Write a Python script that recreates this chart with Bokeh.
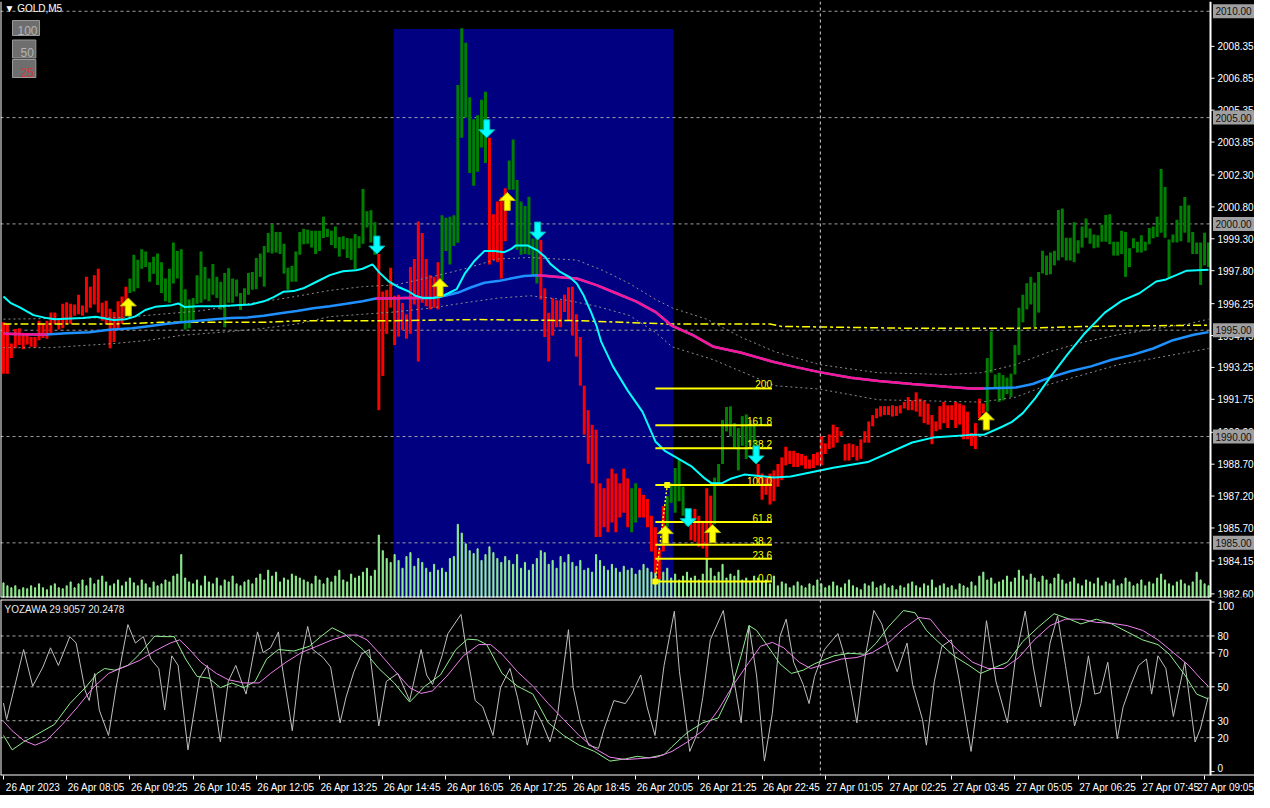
from bokeh.plotting import figure
from bokeh.layouts import column
from bokeh.models import Range1d, FixedTicker, Label, Span
from bokeh.embed import file_html
from bokeh.resources import INLINE
from bokeh.core.properties import value

FONT = "Liberation Sans"

# ---------------- data (GOLD, M5, bar index 0 = 26 Apr 06:45) ----------------
bar_hi = [
    1995.37, 1995.29, 1994.38, 1995.06, 1995.09, 1994.83, 1994.79, 1994.68, 1994.68, 1995.45,
    1995.29, 1995.45, 1995.83, 1995.83, 1995.52, 1996.24, 1996.32, 1996.24, 1996.21, 1996.67,
    1996.16, 1997.51, 1997.05, 1997.59, 1997.89, 1996.29, 1996.39, 1996.01, 1995.86, 1996.36,
    1996.59, 1997.05, 1997.43, 1998.55, 1998.31, 1998.81, 1998.70, 1998.20, 1998.46, 1998.61,
    1998.20, 1997.43, 1997.89, 1999.12, 1998.73, 1998.81, 1996.93, 1996.44, 1996.52, 1997.59,
    1998.70, 1997.97, 1997.43, 1998.12, 1997.51, 1997.28, 1997.69, 1997.92, 1997.43, 1997.39,
    1996.75, 1996.97, 1997.69, 1997.74, 1998.40, 1998.61, 1998.96, 1999.57, 1999.99, 1999.62,
    1999.62, 1999.07, 1997.94, 1998.03, 1998.70, 1999.62, 1999.77, 1999.73, 1999.68, 1999.68,
    1999.68, 2000.34, 1999.77, 1999.68, 1999.88, 1999.38, 1999.42, 1999.34, 1999.31, 1999.53,
    1999.42, 2001.64, 2000.60, 2000.64, 2000.08, 1998.58, 1996.82, 1996.90, 1997.94, 1996.62,
    1996.67, 1996.28, 1995.75, 1997.97, 1998.35, 2000.11, 1999.57, 1998.35, 1997.59, 1997.51,
    1998.20, 2000.41, 2000.29, 2000.34, 2000.41, 2006.53, 2009.20, 2008.52, 2005.96, 2004.92,
    2005.11, 2005.84, 2006.22, 2004.05, 2000.46, 2001.05, 2001.25, 2001.68, 2002.98, 2003.97,
    2002.06, 2001.05, 2000.84, 2001.28, 1999.31, 1999.50, 1999.24, 1996.97, 1995.82, 1996.51,
    1996.41, 1996.41, 1996.67, 1997.02, 1997.05, 1995.75, 1994.68, 1992.39, 1991.24, 1990.55,
    1990.32, 1987.80, 1987.57, 1988.03, 1988.49, 1988.26, 1987.80, 1988.49, 1988.03, 1987.57,
    1987.80, 1987.57, 1987.26, 1987.06, 1986.27, 1985.73, 1984.66, 1986.73, 1987.19, 1987.80,
    1988.52, 1988.91, 1987.64, 1986.50, 1986.19, 1986.60, 1986.27, 1986.04, 1987.57, 1987.22,
    1988.07, 1988.71, 1990.78, 1991.39, 1991.42, 1990.63, 1990.40, 1990.96, 1991.04, 1990.78,
    1990.63, 1988.71, 1988.26, 1988.10, 1988.26, 1988.41, 1988.71, 1989.02, 1989.52, 1989.33,
    1989.33, 1989.23, 1989.18, 1989.10, 1988.92, 1989.18, 1989.26, 1990.02, 1989.68, 1990.10,
    1990.56, 1990.45, 1990.25, 1989.64, 1989.68, 1989.64, 1989.56, 1989.87, 1990.25, 1990.71,
    1991.01, 1991.32, 1991.43, 1991.43, 1991.43, 1991.47, 1991.43, 1991.47, 1991.63, 1991.86,
    1991.70, 1992.08, 1991.78, 1991.70, 1991.55, 1991.01, 1990.71, 1991.43, 1991.63, 1991.47,
    1991.47, 1991.63, 1991.55, 1991.47, 1991.17, 1990.17, 1990.63, 1991.78, 1991.55, 1993.69,
    1994.94, 1992.92, 1993.00, 1992.89, 1992.77, 1992.96, 1994.30, 1996.06, 1996.67, 1997.21,
    1997.51, 1997.24, 1997.74, 1998.74, 1998.51, 1998.66, 1998.74, 2000.65, 2000.72, 1999.35,
    1999.35, 2000.08, 1999.23, 1999.88, 2000.26, 1999.78, 1999.50, 1999.47, 1999.96, 2000.42,
    2000.45, 1999.16, 1999.16, 1999.68, 1999.62, 1998.86, 1999.32, 1999.16, 1999.47, 1999.16,
    1999.81, 1999.88, 2000.34, 2002.58, 2001.74, 1999.27, 1999.50, 2000.19, 2000.85, 2001.26,
    2000.88, 1999.62, 1999.12, 1999.12, 1999.58, 1999.12,
]
bar_lo = [
    1992.95, 1992.95, 1993.69, 1994.15, 1994.30, 1994.10, 1994.33, 1994.22, 1994.18, 1994.53,
    1994.64, 1994.60, 1994.83, 1995.29, 1995.03, 1995.09, 1995.29, 1995.29, 1995.68, 1995.75,
    1995.68, 1995.83, 1996.06, 1996.21, 1995.83, 1995.45, 1995.29, 1994.15, 1994.45, 1995.06,
    1995.29, 1995.68, 1996.75, 1996.82, 1996.97, 1997.89, 1997.97, 1997.28, 1997.66, 1997.13,
    1996.75, 1996.36, 1996.29, 1997.20, 1997.43, 1995.37, 1995.03, 1995.09, 1995.37, 1996.24,
    1996.29, 1996.44, 1996.36, 1996.67, 1996.52, 1995.98, 1995.14, 1996.29, 1996.29, 1996.59,
    1995.95, 1996.21, 1996.67, 1996.90, 1996.93, 1997.51, 1997.05, 1998.66, 1998.61, 1998.66,
    1998.58, 1997.66, 1996.90, 1997.28, 1997.28, 1998.55, 1999.04, 1999.07, 1998.89, 1998.58,
    1998.73, 1999.34, 1999.39, 1999.01, 1998.86, 1998.46, 1998.81, 1998.40, 1998.31, 1997.85,
    1998.86, 1999.07, 1999.83, 1999.12, 1998.55, 1991.24, 1992.85, 1994.83, 1996.06, 1994.30,
    1994.70, 1995.00, 1994.60, 1994.83, 1996.21, 1993.53, 1996.29, 1996.13, 1995.98, 1996.06,
    1995.98, 1997.36, 1998.73, 1998.09, 1998.96, 1999.11, 2004.05, 2005.00, 2002.40, 2001.79,
    2002.45, 2003.59, 2002.86, 1998.09, 1998.30, 1998.20, 1997.43, 1999.19, 2001.61, 2001.61,
    1998.78, 1998.55, 1998.58, 1998.55, 1997.51, 1997.20, 1996.44, 1994.68, 1993.53, 1994.75,
    1995.14, 1995.14, 1995.86, 1995.45, 1994.75, 1993.76, 1992.39, 1990.09, 1988.72, 1987.80,
    1985.28, 1985.28, 1985.73, 1985.50, 1985.96, 1985.50, 1986.19, 1986.42, 1985.73, 1985.50,
    1985.96, 1986.19, 1986.19, 1985.73, 1984.59, 1983.59, 1983.29, 1984.59, 1985.73, 1986.88,
    1986.42, 1986.96, 1986.27, 1985.81, 1985.12, 1985.05, 1984.82, 1984.74, 1984.32, 1985.12,
    1985.88, 1987.80, 1988.71, 1990.24, 1990.00, 1989.48, 1988.41, 1989.56, 1988.94, 1989.56,
    1988.79, 1987.80, 1987.03, 1987.26, 1986.80, 1986.96, 1987.64, 1987.95, 1988.64, 1988.71,
    1988.57, 1988.57, 1988.64, 1988.49, 1988.49, 1988.52, 1988.64, 1988.64, 1989.18, 1989.41,
    1989.48, 1989.71, 1990.02, 1988.87, 1988.87, 1989.03, 1988.87, 1988.95, 1989.71, 1989.71,
    1990.48, 1990.86, 1990.94, 1991.01, 1991.01, 1990.94, 1990.97, 1991.09, 1991.32, 1991.24,
    1991.24, 1991.17, 1990.94, 1990.63, 1990.56, 1989.64, 1990.25, 1990.33, 1990.63, 1990.40,
    1990.78, 1990.40, 1990.56, 1989.87, 1989.87, 1989.56, 1989.41, 1990.86, 1991.09, 1991.17,
    1993.00, 1992.31, 1991.63, 1991.70, 1992.00, 1991.86, 1992.92, 1993.84, 1995.37, 1995.98,
    1996.21, 1995.14, 1995.83, 1997.67, 1997.59, 1997.63, 1998.05, 1998.28, 1998.43, 1998.28,
    1998.28, 1998.20, 1998.61, 1998.89, 1999.35, 1999.07, 1998.86, 1998.89, 1999.16, 1999.16,
    1999.04, 1998.51, 1998.51, 1998.58, 1997.51, 1997.97, 1998.86, 1998.66, 1998.66, 1998.74,
    1999.04, 1999.32, 1999.38, 1999.58, 1999.35, 1997.44, 1999.12, 1999.12, 1999.19, 1999.58,
    1999.12, 1998.58, 1998.58, 1997.13, 1998.05, 1997.97,
]
# run-length coded bar direction: d = bearish (red), u = bullish (green)
bar_dir_runs = [("d", 32), ("u", 63), ("d", 16), ("u", 12), ("d", 5), ("u", 8), ("d", 23),
                ("u", 2), ("d", 7), ("u", 6), ("d", 6), ("u", 11), ("d", 58), ("u", 57)]
volume = [
    15, 12, 10, 12, 8, 10, 9, 12, 10, 14, 10, 8, 12, 14, 10, 9,
    12, 16, 10, 14, 18, 12, 20, 14, 18, 22, 16, 12, 14, 18, 12, 16,
    20, 15, 12, 18, 14, 10, 16, 12, 14, 18, 16, 22, 24, 44, 20, 16,
    14, 18, 12, 22, 16, 14, 20, 12, 18, 16, 22, 14, 12, 16, 18, 14,
    20, 24, 18, 28, 22, 26, 16, 20, 18, 24, 22, 20, 18, 16, 14, 22,
    18, 14, 20, 16, 22, 28, 18, 16, 24, 20, 22, 26, 30, 22, 28,
    64, 48, 40, 36, 44, 38, 30, 42, 46, 32, 40, 36, 30, 26, 34, 28,
    30, 26, 40, 42, 75, 66, 55, 48, 45, 50, 38, 44, 52, 46, 40, 36,
    42, 38, 34, 44, 30, 36, 28, 34, 40, 48, 46, 34, 38, 30, 42, 36,
    44, 36, 32, 38, 28, 30, 26, 44, 38, 32, 28, 34, 30, 26, 32, 28,
    30, 24, 28, 34, 30, 26, 32, 22, 26, 30, 20, 24, 18, 22, 26, 20,
    22, 18, 24, 40, 30, 22, 26, 34, 20, 24, 22, 28, 18, 20, 16, 22,
    20, 16, 18, 14, 22, 12, 16, 14, 10, 12, 16, 12, 10, 14, 12, 18,
    14, 10, 12, 16, 12, 10, 14, 18, 12, 10, 8, 14, 12, 16, 10, 12,
    14, 10, 12, 8, 12, 10, 14, 16, 12, 10, 14, 12, 18, 10, 12, 14,
    10, 12, 8, 14, 12, 10, 16, 12, 22, 26, 18, 20, 14, 16, 18, 22,
    16, 20, 28, 22, 18, 24, 20, 16, 22, 18, 14, 20, 24, 18, 14, 16,
    20, 14, 12, 18, 16, 14, 20, 12, 16, 14, 18, 12, 14, 20, 16, 12,
    14, 18, 12, 16, 14, 20, 24, 18, 14, 12, 16, 18, 14, 12, 16, 26, 18, 14, 12,
]

fast_ma = [(0, 1996.59), (1.75, 1996.29), (4.25, 1996.06), (7.6, 1995.71), (10.9, 1995.57), (13, 1995.52),
           (20.1, 1995.57), (23.4, 1995.63), (26.75, 1995.52), (28, 1995.48), (30.9, 1995.52), (33.4, 1995.65),
           (35.9, 1995.95), (38.4, 1996.10), (42.6, 1996.18), (44.25, 1996.26), (45.9, 1996.09), (49.25, 1996.13),
           (54.25, 1996.13), (57.6, 1996.16), (62.6, 1996.21), (65.9, 1996.36), (68.4, 1996.56), (70.9, 1996.81),
           (73.4, 1996.84), (75.9, 1996.97), (79.25, 1997.28), (82.6, 1997.59), (85.9, 1997.77), (89.25, 1997.82),
           (90.9, 1997.89), (93.4, 1998.10), (95.1, 1997.72), (97.6, 1997.28), (100.1, 1997.02), (102.6, 1996.82),
           (104.25, 1996.62), (106.3, 1996.51), (108.4, 1996.51), (110.5, 1996.56), (112.6, 1996.74), (114.7, 1996.93),
           (116.75, 1997.66), (119.25, 1998.27), (121.75, 1998.73), (124.25, 1998.73), (126.75, 1998.67),
           (128.4, 1998.81), (129.7, 1998.99), (132.6, 1998.99), (135.1, 1998.76), (137.2, 1998.43), (138.4, 1998.12),
           (140.9, 1997.74), (143.4, 1997.48), (145.1, 1997.20), (146.75, 1996.67), (148.8, 1995.82), (150.1, 1995.21),
           (151.3, 1994.45), (154.25, 1993.30), (158, 1992.16), (161.75, 1991.16), (165, 1989.77), (167.5, 1989.31),
           (171, 1988.94), (174.25, 1988.58), (177.5, 1988.03), (179.25, 1987.80), (181.75, 1987.80), (184.25, 1988.03),
           (187.5, 1988.21), (190, 1988.17), (195, 1988.07), (199.25, 1988.12), (210, 1988.53), (218.75, 1988.80),
           (230, 1989.72), (235.25, 1989.95), (245.75, 1990.09), (248.25, 1990.09), (252.75, 1990.46), (255.25, 1990.69),
           (258, 1991.10), (261.25, 1991.83), (264.75, 1992.75), (269.25, 1993.85), (273.5, 1994.82), (278.75, 1995.83),
           (283, 1996.38), (287.5, 1996.74), (291.75, 1997.29), (294.25, 1997.39), (299.5, 1997.80), (305, 1997.84)]
slow_ma = [(0, 1994.83), (8.4, 1994.80), (10.9, 1994.80), (15.9, 1994.86), (21.75, 1994.91), (26.75, 1995.02),
           (32.6, 1995.09), (36.75, 1995.19), (40.9, 1995.29), (45.1, 1995.37), (49.25, 1995.45), (53.4, 1995.52),
           (57.6, 1995.57), (61.75, 1995.60), (65.9, 1995.68), (70.1, 1995.80), (74.25, 1995.90), (78.4, 1996.03),
           (82.6, 1996.13), (86.75, 1996.24), (90.9, 1996.36), (94.25, 1996.49), (99, 1996.50), (101.75, 1996.51),
           (108.4, 1996.51), (111.75, 1996.62), (115.1, 1996.77), (118.4, 1997.02), (121.75, 1997.23), (125.1, 1997.31),
           (128.4, 1997.43), (131.75, 1997.55), (135.1, 1997.59), (138.4, 1997.54), (141.75, 1997.48), (145.1, 1997.43),
           (150.1, 1997.12), (155.1, 1996.74), (160.1, 1996.36), (165.1, 1995.85), (169.25, 1995.20), (174.5, 1994.77),
           (179.75, 1994.22), (186.75, 1993.94), (194.5, 1993.53), (199.75, 1993.30), (206.5, 1993.03), (214.5, 1992.76),
           (221.5, 1992.61), (230, 1992.47), (238.75, 1992.34), (244.75, 1992.26), (248.25, 1992.26), (256.25, 1992.31),
           (260.5, 1992.47), (264.75, 1992.77), (270, 1993.07), (275.25, 1993.30), (280.5, 1993.61), (285.75, 1993.84),
           (291, 1994.14), (296, 1994.53), (301.25, 1994.79), (305, 1994.91)]
slow_ma_falling = [(0, 10.9), (94.25, 108.4), (135.1, 248.25)]
env_upper = [(0, 1995.52), (12, 1995.55), (30, 1995.60), (49.25, 1995.90), (71.75, 1996.52), (82.6, 1996.87),
             (90.9, 1997.05), (99.25, 1997.13), (108.4, 1997.51), (116.75, 1997.89), (125.1, 1998.35), (133.4, 1998.42),
             (145.1, 1998.30), (151.75, 1997.81), (158.4, 1997.20), (165.1, 1996.44), (169.25, 1996.05), (178, 1995.52),
             (186.6, 1994.68), (195.25, 1993.99), (206.6, 1993.38), (221.4, 1993.00), (238.75, 1992.92), (247.5, 1993.00),
             (256.15, 1993.38), (264.75, 1993.99), (273.5, 1994.45), (282.25, 1994.79), (290.9, 1995.06),
             (299.6, 1995.29), (305, 1995.52)]
env_lower = [(0, 1994.18), (11.75, 1994.18), (28.4, 1994.38), (36.75, 1994.53), (45.1, 1994.76), (57.6, 1994.94),
             (65.9, 1995.09), (74.25, 1995.29), (82.6, 1995.64), (90.9, 1995.75), (99.25, 1995.86), (108.4, 1996.05),
             (116.75, 1996.29), (125.1, 1996.51), (133.4, 1996.62), (141.75, 1996.44), (150.1, 1996.13), (158.4, 1995.70),
             (165, 1994.90), (169.25, 1994.22), (179.7, 1993.61), (195.25, 1992.39), (206.6, 1992.23), (221.4, 1991.73),
             (247.5, 1991.62), (256.15, 1991.85), (264.75, 1992.46), (282.25, 1993.38), (305, 1994.14)]
yellow_line = [(0, 1995.29), (28, 1995.29), (40, 1995.37), (66, 1995.37), (75, 1995.45), (99, 1995.45),
               (120, 1995.50), (145, 1995.45), (169, 1995.29), (194, 1995.29), (197, 1995.18), (230, 1995.09),
               (258, 1995.09), (275, 1995.18), (305, 1995.24)]

level_prices = [2010, 2005, 2000, 1995, 1990, 1985]
price_ticks = [2008.35, 2006.85, 2005.35, 2003.85, 2002.30, 2000.80, 1999.30, 1997.80, 1996.25,
               1994.75, 1993.25, 1991.75, 1990.20, 1988.70, 1987.20, 1985.70, 1984.15, 1982.60]

fib_anchor_i = [165, 168]
fib_anchor_p = [1983.18, 1987.72]
fib_end_i = 194.5
fib_levels = [0.0, 23.6, 38.2, 61.8, 100.0, 138.2, 161.8, 200.0]
fib_level_text = ["0.0", "23.6", "38.2", "61.8", "100.0", "138.2", "161.8", "200"]

buy_i = [31.6, 110.5, 127.5, 167.5, 179.5, 248.75]
buy_p = [1996.52, 1997.43, 2001.48, 1985.81, 1985.86, 1991.16]
sell_i = [94.5, 122.3, 135.2, 173.3, 190.5]
sell_p = [1998.58, 2004.05, 1999.24, 1985.76, 1988.71]

box_i = [98.75, 169.5]
box_p = [2009.17, 1982.0]
day_sep_i = 206.75

osc_fast = [(0, 40.4), (0.8, 30.7), (5.1, 72), (7.4, 50.4), (10, 61.7), (11.9, 73), (13.9, 62.6), (16.8, 79.6),
            (18.4, 75.8), (20.7, 47.6), (21.7, 41.9), (23.1, 57.9), (24.25, 36.3), (26.6, 21.3), (28.5, 49.5),
            (31.5, 86.7), (33.4, 75.8), (35.4, 79.6), (37.3, 66.4), (39.3, 60.8), (40.8, 36.3), (42.6, 68.3),
            (44.2, 62.6), (46.7, 12.8), (49.6, 55.1), (51.6, 62.6), (53, 47.6), (54.9, 17.5), (56.9, 53.2),
            (58.8, 62.6), (61.4, 45.7), (64.3, 82.4), (65.7, 70.2), (67.6, 73), (69.6, 82.4), (70.5, 62.6),
            (73.1, 24.1), (75, 62.6), (77, 85.6), (78.3, 72), (80.9, 67.3), (82.8, 61.7), (85.2, 28.8), (86.7, 43.8),
            (88.7, 58.9), (90.6, 69.2), (92.6, 72), (95, 26.9), (96.9, 53.2), (99.8, 57.9), (102.8, 41.9),
            (105.7, 72), (107.1, 57), (108.6, 51.4), (111, 68.3), (112.5, 81.4), (115.8, 92.7), (117.4, 68.3),
            (119.4, 41.9), (121.3, 38.2), (123.9, 21.3), (125.8, 49.5), (128.2, 60.8), (130.1, 43.8), (132.6, 15.6),
            (134.6, 36.3), (136.3, 28.8), (138.3, 17.5), (140.3, 34.4), (143, 83.7), (144.2, 49.5), (146.1, 28.8),
            (148.1, 15.6), (150.6, 13.7), (152, 25), (154.5, 41.9), (157.4, 40.1), (159, 45.7), (161.3, 57),
            (162.9, 38.2), (164.9, 21.3), (167.2, 62.6), (169.8, 94.6), (171.1, 58.9), (173.7, 11.9), (175.4, 21.3),
            (177, 43.8), (178.9, 77.7), (182.2, 95), (184.4, 60.8), (186.7, 28.8), (188.7, 86.1), (190.6, 57),
            (192.6, 6.2), (194.6, 34.4), (196.5, 79.6), (198.1, 89.9), (200, 64.5), (202.4, 51.4), (203.9, 40.1),
            (205.3, 56.1), (207.8, 72), (211.2, 81.4), (213.1, 66.4), (216, 28.8), (218, 66.4), (220.3, 95),
            (222.3, 87.1), (224.2, 72), (226.2, 58.9), (228.7, 75.8), (230.1, 51.4), (232.6, 30.7), (233.6, 15.6),
            (235.6, 53.2), (237.5, 73.9), (239.9, 77.7), (241.8, 55.1), (244.9, 11.9), (246.9, 47.6), (248.8, 89),
            (251.2, 53.2), (254.1, 28.8), (256.1, 66.4), (258.6, 94.6), (260.6, 62.6), (262.5, 38.2), (264.9, 75.8),
            (266.8, 91.8), (268.8, 62.6), (271.1, 26.9), (272.7, 40.1), (274.6, 68.3), (276.2, 45.7), (277.6, 46.6),
            (279.5, 64.5), (281.9, 19.4), (283.4, 38.2), (285.4, 51.4), (287.3, 62.6), (289.3, 66.4), (290.6, 45.7),
            (292.2, 68.3), (294.2, 60.8), (296.1, 32.5), (297.1, 43.8), (299, 64.5), (301.6, 17.5), (302.9, 25),
            (304.9, 43.8)]
osc_green = [(0, 21.3), (2.2, 12.8), (5.1, 17.5), (8, 21.3), (12.9, 27.8), (16.8, 40.1), (20.7, 49.5), (23.7, 57.9),
             (25.6, 60.8), (28.2, 59.8), (31.5, 62.6), (34.4, 69.2), (38.3, 79.9), (40.7, 79.6), (43.2, 79.6),
             (46.1, 66.4), (49, 56.1), (52, 55.1), (54.9, 49.5), (57.8, 52.3), (60.8, 49.5), (63.7, 53.2), (66.6, 66.4),
             (69.6, 72), (73.5, 71.1), (77.4, 73.9), (80.3, 79.6), (83.2, 84.8), (86.2, 81.4), (91, 72), (95, 60.8),
             (98.9, 52.3), (102.8, 41), (106.7, 50.4), (110.6, 57), (114.5, 72), (117.4, 78.1), (120, 77.7),
             (122.3, 74.9), (126.2, 57.9), (130.1, 50.4), (134, 45.7), (137.9, 28.8), (141.8, 21.3), (145.7, 15.6),
             (149.6, 11.9), (153.5, 6.2), (157.4, 7.5), (160.4, 9), (163.3, 8.1), (167.2, 10), (169.2, 14.7),
             (173.1, 23.1), (177, 28.8), (180.9, 31.6), (183.8, 45.7), (186.7, 68.3), (188.7, 86.1), (190.6, 83.3),
             (194.6, 70.2), (196.5, 63.6), (199.4, 57.9), (202.4, 59.8), (205.3, 63.6), (210.2, 68.3), (214.1, 69.8),
             (218, 69.2), (220.9, 75.8), (223.9, 85.2), (227.8, 95), (230.7, 93.7), (233.6, 83.3), (236.5, 76.7),
             (240.5, 68.3), (244.4, 62.6), (247.3, 57.9), (251.2, 61.7), (254.1, 64.5), (258, 76.7), (261.9, 85.2),
             (265.9, 93.1), (269.8, 89.9), (272.7, 87.1), (276.6, 89.9), (280.5, 87.1), (284.4, 82.4), (288.3, 77.7),
             (292.2, 74.9), (295.1, 69.2), (299, 57), (302, 45.7), (304.9, 42.9)]
osc_violet = [(0, 29.7), (2.2, 24.1), (5.1, 18.4), (8, 15.6), (10.9, 18.4), (14.9, 27.8), (18.8, 38.2), (22.7, 49.5),
              (26.6, 57.9), (30.5, 61.7), (34.4, 65.5), (38.3, 71.1), (42.2, 75.8), (44.6, 77.7), (47.1, 72),
              (50, 64.5), (53.9, 57.9), (56.9, 54.2), (60.8, 52.3), (64.7, 52.3), (67.6, 57.9), (71.5, 64.5),
              (75.4, 70.2), (79.3, 73.9), (83.2, 77.7), (87.1, 80.5), (89.5, 80.5), (92, 77.7), (95, 70.2),
              (98.9, 59.8), (102.8, 49.5), (105.7, 46.1), (108.6, 47.6), (112.5, 57), (116.4, 68.3), (120.3, 74.9),
              (123.3, 74.9), (126.2, 69.2), (130.1, 58.9), (134, 50.4), (137.9, 40.1), (141.8, 30.7), (145.7, 21.3),
              (149.6, 13.7), (153.5, 8.5), (157.4, 7.1), (161.3, 7.7), (165.3, 8.5), (169.2, 11.9), (173.1, 17.5),
              (177, 24.1), (180.9, 36.3), (184.8, 51.4), (188.7, 64.5), (191.6, 73.9), (194.6, 76.2), (197.5, 73),
              (201.4, 64.5), (204.3, 60.8), (208.2, 63.6), (212.1, 66.4), (216, 67.3), (219.9, 70.2), (223.9, 75.8),
              (227.8, 84.3), (231.7, 90.9), (234.6, 89.9), (237.5, 81.4), (241.4, 72), (245.3, 64.5), (249.2, 60.8),
              (253.1, 60.8), (257, 67.3), (260.9, 77.7), (264.9, 86.1), (268.8, 89.9), (272.7, 89.9), (276.6, 88),
              (280.5, 87.5), (284.4, 86.1), (288.3, 83.3), (292.2, 77.7), (296.1, 70.2), (300, 62.6), (302.9, 55.1),
              (304.9, 50.4)]
osc_levels = [20, 30, 50, 70, 80]
osc_ticks = [0, 20, 30, 50, 70, 80, 100]

time_tick_bar = [0, 16, 32, 48, 64, 80, 96, 112, 128, 144, 160, 176, 192, 208, 224, 240, 256, 272, 288, 304]
time_tick_text = ["26 Apr 2023", "26 Apr 08:05", "26 Apr 09:25", "26 Apr 10:45", "26 Apr 12:05", "26 Apr 13:25",
                  "26 Apr 14:45", "26 Apr 16:05", "26 Apr 17:25", "26 Apr 18:45", "26 Apr 20:05", "26 Apr 21:25",
                  "26 Apr 22:45", "27 Apr 01:05", "27 Apr 02:25", "27 Apr 03:45", "27 Apr 05:05", "27 Apr 06:25",
                  "27 Apr 07:45", "27 Apr 09:05"]

# ---------------- layout constants ----------------
W = 1254                      # full canvas width; plot area 1210 px + 44 px price scale
X0, X1 = -0.75, 305.5         # bar-index span of the plotting area
PXB = 1210.0 / (X1 - X0)      # pixels per bar
XE = X1 + 44.0 / PXB          # right end incl. price-scale strip
PY0, PY1 = 1982.43, 2010.46
OY0, OY1 = -2.3, 101.5
MAIN_H, OSC_H = 596, 176
PYU = MAIN_H / (PY1 - PY0)    # pixels per price unit
OYU = OSC_H / (OY1 - OY0)

bar_idx = list(range(len(bar_hi)))
bar_dirs = []
for d, n in bar_dir_runs:
    bar_dirs += [d] * n
bar_colors = ["#008000" if d == "u" else "#FF0000" for d in bar_dirs]


def xs_of(pts):
    return [a for a, b in pts]


def ys_of(pts):
    return [b for a, b in pts]


# ---------------- main pane ----------------
p = figure(frame_width=W, frame_height=MAIN_H, x_range=Range1d(X0, XE), y_range=Range1d(PY0, PY1),
           output_backend="svg", toolbar_location=None, x_axis_location=None, y_axis_location=None,
           background_fill_color="black", border_fill_color="black", outline_line_color=None,
           min_border_left=0, min_border_right=0, min_border_top=1, min_border_bottom=2)
p.grid.visible = False
p.extra_y_ranges = {"vol": Range1d(0, 611)}

p.quad(left=box_i[0], right=box_i[1], bottom=box_p[1], top=box_p[0], color="#000080", line_color=None)

p.segment(x0=[X0] * len(level_prices), x1=[X1] * len(level_prices), y0=level_prices, y1=level_prices,
          line_color="#A0A0A0", line_dash="3 3", line_width=1)
p.add_layout(Span(location=day_sep_i, dimension="height", line_color="#D0D0D0", line_dash="3 3", line_width=1))

p.vbar(x=bar_idx, top=volume, bottom=0, width=0.28, color="#90EE90", y_range_name="vol")
p.vbar(x=bar_idx, top=bar_hi, bottom=bar_lo, width=0.75, color=bar_colors, line_color=None)

for env in (env_upper, env_lower):
    p.line(xs_of(env), ys_of(env), line_color="#8C8C8C", line_dash="2 3", line_width=1)
p.line(xs_of(yellow_line), ys_of(yellow_line), line_color="#FFFF00", line_dash="8 3 3 3", line_width=1.5)
p.line(xs_of(slow_ma), ys_of(slow_ma), line_color="#1E90FF", line_width=2.5)
for a0, a1 in slow_ma_falling:
    seg = [(a, b) for a, b in slow_ma if a0 <= a <= a1]
    p.line(xs_of(seg), ys_of(seg), line_color="#FF1493", line_width=2.5)
p.line(xs_of(fast_ma), ys_of(fast_ma), line_color="#00FFFF", line_width=2)

# Fibonacci retracement
fib_prices = [fib_anchor_p[0] + (fib_anchor_p[1] - fib_anchor_p[0]) * lv / 100.0 for lv in fib_levels]
p.segment(x0=[fib_anchor_i[0]] * len(fib_prices), x1=[fib_end_i] * len(fib_prices), y0=fib_prices, y1=fib_prices,
          line_color="#FFFF00", line_width=2)
p.text(x=[fib_end_i] * len(fib_prices), y=fib_prices, text=fib_level_text, text_align="right",
       text_baseline="bottom", text_color="#FFFF00", text_font_size="10px", text_font=value(FONT))
p.line(fib_anchor_i, fib_anchor_p, line_color="#FFFF00", line_dash="2 2", line_width=1.5)
p.scatter(fib_anchor_i, fib_anchor_p, marker="square", size=5, color="#FFFF00")

# signal arrows (tip at the signal price; shape given in pixels)
ARROW = [(0, 0), (8, 8), (3, 8), (3, 18), (-3, 18), (-3, 8), (-8, 8)]


def arrows(idx, prices, up):
    xs, ys = [], []
    for i, pr in zip(idx, prices):
        xs.append([i + dx / PXB for dx, dy in ARROW])
        ys.append([pr - dy / PYU if up else pr + dy / PYU for dx, dy in ARROW])
    return xs, ys


bx, by = arrows(buy_i, buy_p, True)
p.patches(bx, by, fill_color="#FFFF00", line_color="#B8B800", line_width=1)
sx, sy = arrows(sell_i, sell_p, False)
p.patches(sx, sy, fill_color="#00FFFF", line_color="#00B8B8", line_width=1)

# frame lines and price scale
p.segment(x0=[X0, X0, X1], x1=[X0, X1, X1], y0=[PY0, PY0, PY0], y1=[PY1, PY0, PY1], line_color="white",
          line_width=2)
p.segment(x0=[X1] * len(price_ticks), x1=[X1 + 4 / PXB] * len(price_ticks), y0=price_ticks, y1=price_ticks,
          line_color="white", line_width=1)
p.text(x=[X1 + 7 / PXB] * len(price_ticks), y=price_ticks, text=[f"{t:.2f}" for t in price_ticks],
       text_align="left", text_baseline="middle", text_color="white", text_font_size="10px", text_font=value(FONT))
p.rect(x=[X1 + 23 / PXB] * len(level_prices), y=level_prices, width=41, height=14, width_units="screen",
       height_units="screen", fill_color="#A0A0A0", line_color=None)
p.text(x=[X1 + 5 / PXB] * len(level_prices), y=level_prices, text=[f"{lv:.2f}" for lv in level_prices],
       text_align="left", text_baseline="middle", text_color="#101010", text_font_size="10px", text_font=value(FONT))

p.add_layout(Label(x=X0, y=PY1, x_offset=4, y_offset=-1, text="\u25BC GOLD,M5", text_baseline="top",
                   text_font=FONT, text_font_size="10px", text_color="white"))
for k, (txt, col) in enumerate([("100", "#B4B4B4"), ("50", "#B4B4B4"), ("25", "#D03A3A")]):
    p.add_layout(Label(x=X0, y=PY1, x_offset=12, y_offset=-19 - 19.5 * k, text=txt, text_baseline="top",
                       text_font=FONT, text_font_size="12px", text_color=col,
                       background_fill_color="#6E6E6E", border_line_color="#9A9A9A",
                       padding=(14 - 3 * len(txt), 2, 14 - 3 * len(txt), 1)))

# ---------------- oscillator pane ----------------
q = figure(frame_width=W, frame_height=OSC_H, x_range=p.x_range, y_range=Range1d(OY0, OY1),
           output_backend="svg", toolbar_location=None, y_axis_location=None,
           background_fill_color="black", border_fill_color="black", outline_line_color=None,
           min_border_left=0, min_border_right=0, min_border_top=0, min_border_bottom=14)
q.grid.visible = False

xa = q.xaxis[0]
xa.axis_line_color = None
xa.major_tick_line_color = None
xa.major_tick_out = 0
xa.major_tick_in = 0
xa.minor_tick_line_color = "white"
xa.minor_tick_out = 4
xa.minor_tick_in = 0
xa.major_label_text_color = "white"
xa.major_label_text_font = FONT
xa.major_label_text_font_size = "10px"
xa.major_label_standoff = 2
centers = [b + 7.5 for b in time_tick_bar]
xa.ticker = FixedTicker(ticks=centers, minor_ticks=time_tick_bar)
xa.major_label_overrides = {b + 7.5: t for b, t in zip(time_tick_bar, time_tick_text)}

q.segment(x0=[X0] * len(osc_levels), x1=[X1] * len(osc_levels), y0=osc_levels, y1=osc_levels,
          line_color="#A8A8A8", line_dash="3 3", line_width=1)
q.add_layout(Span(location=day_sep_i, dimension="height", line_color="#D0D0D0", line_dash="3 3", line_width=1))

q.line(xs_of(osc_fast), ys_of(osc_fast), line_color="#BEBEBE", line_width=1)
q.line(xs_of(osc_green), ys_of(osc_green), line_color="#90EE90", line_width=1)
q.line(xs_of(osc_violet), ys_of(osc_violet), line_color="#EE82EE", line_width=1)

q.segment(x0=[X0, X0, X1, X0], x1=[X0, X1, X1, XE], y0=[OY0, OY1, OY0, OY0], y1=[OY1, OY1, OY1, OY0],
          line_color="white", line_width=2)
q.segment(x0=[X1] * len(osc_ticks), x1=[X1 + 4 / PXB] * len(osc_ticks), y0=osc_ticks, y1=osc_ticks,
          line_color="white", line_width=1)
mid_ticks = [t for t in osc_ticks if 0 < t < 100]
q.text(x=[X1 + 7 / PXB] * len(mid_ticks), y=mid_ticks, text=[str(t) for t in mid_ticks], text_align="left",
       text_baseline="middle", text_color="white", text_font_size="10px", text_font=value(FONT))
q.text(x=[X1 + 7 / PXB], y=[max(osc_ticks)], text=[str(max(osc_ticks))], text_align="left",
       text_baseline="top", text_color="white", text_font_size="10px", text_font=value(FONT))
q.text(x=[X1 + 7 / PXB], y=[min(osc_ticks)], text=[str(min(osc_ticks))], text_align="left",
       text_baseline="bottom", text_color="white", text_font_size="10px", text_font=value(FONT))

q.add_layout(Label(x=X0, y=OY1, x_offset=4, y_offset=-4, text="YOZAWA 29.9057 20.2478", text_baseline="top",
                   text_font=FONT, text_font_size="10px", text_color="#E8E8E8"))

layout = column(p, q, spacing=0, styles={"background-color": "black"})
open("out.html", "w").write(file_html(layout, INLINE))
